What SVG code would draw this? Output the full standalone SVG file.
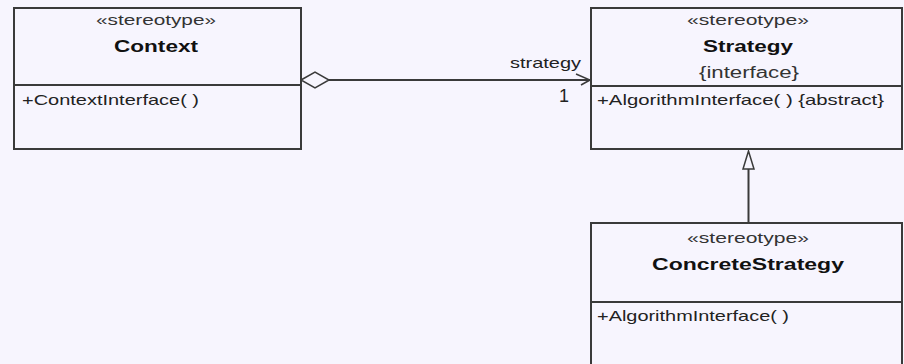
<svg xmlns="http://www.w3.org/2000/svg" width="904" height="364" viewBox="0 0 904 364">
<style>
.box{fill:#F7F5FE;stroke:#3a3a3a;stroke-width:2}
.div{stroke:#3a3a3a;stroke-width:2}
.st{font-family:"Liberation Sans",Arial,sans-serif;font-size:14px;fill:#333;text-anchor:middle}
.nm{font-family:"Liberation Sans",Arial,sans-serif;font-size:17px;font-weight:bold;fill:#111;text-anchor:middle}
.op{font-family:"Liberation Sans",Arial,sans-serif;font-size:15px;fill:#222}
.lbl{font-family:"Liberation Sans",Arial,sans-serif;font-size:15px;fill:#222}
.ln{fill:none;stroke:#3a3a3a;stroke-width:2}
</style>
<rect width="904" height="364" fill="#F7F5FE"/>
<g id="connectors">
<line class="ln" x1="329" y1="80" x2="590" y2="80"/>
<polygon points="301,80 315,72 329,80 315,88" fill="#F7F5FE" stroke="#3a3a3a" stroke-width="1.5"/>
<polyline class="ln" style="stroke-width:1.5" points="576,74 590,80 581,85"/>
<text class="lbl" x="510" y="68" textLength="71" lengthAdjust="spacingAndGlyphs">strategy</text>
<text class="lbl" x="559" y="102" style="font-size:18px">1</text>
<line class="ln" x1="748.5" y1="169" x2="748.5" y2="223"/>
<polygon points="748.5,151 743,169 754,169" fill="#F7F5FE" stroke="#3a3a3a" stroke-width="1.5"/>
</g>
<g id="context">
<rect class="box" x="14" y="8" width="287" height="141"/>
<line class="div" x1="14" y1="85" x2="301" y2="85"/>
<text class="st" x="156" y="25" textLength="120" lengthAdjust="spacingAndGlyphs">«stereotype»</text>
<text class="nm" x="156" y="52" textLength="84" lengthAdjust="spacingAndGlyphs">Context</text>
<text class="op" x="22" y="105" textLength="177" lengthAdjust="spacingAndGlyphs">+ContextInterface( )</text>
</g>
<g id="strategy">
<rect class="box" x="591" y="8" width="311" height="141"/>
<line class="div" x1="591" y1="86" x2="902" y2="86"/>
<text class="st" x="748" y="25" textLength="122" lengthAdjust="spacingAndGlyphs">«stereotype»</text>
<text class="nm" x="748" y="52" textLength="90" lengthAdjust="spacingAndGlyphs">Strategy</text>
<text class="st" x="749" y="78" style="font-size:16px" textLength="100" lengthAdjust="spacingAndGlyphs">{interface}</text>
<text class="op" x="597" y="105" textLength="287" lengthAdjust="spacingAndGlyphs">+AlgorithmInterface( ) {abstract}</text>
</g>
<g id="concretestrategy">
<rect class="box" x="591" y="223" width="311" height="160"/>
<line class="div" x1="591" y1="302" x2="902" y2="302"/>
<text class="st" x="748" y="243" textLength="122" lengthAdjust="spacingAndGlyphs">«stereotype»</text>
<text class="nm" x="748" y="270" textLength="192" lengthAdjust="spacingAndGlyphs">ConcreteStrategy</text>
<text class="op" x="597" y="321" textLength="192" lengthAdjust="spacingAndGlyphs">+AlgorithmInterface( )</text>
</g>
</svg>
